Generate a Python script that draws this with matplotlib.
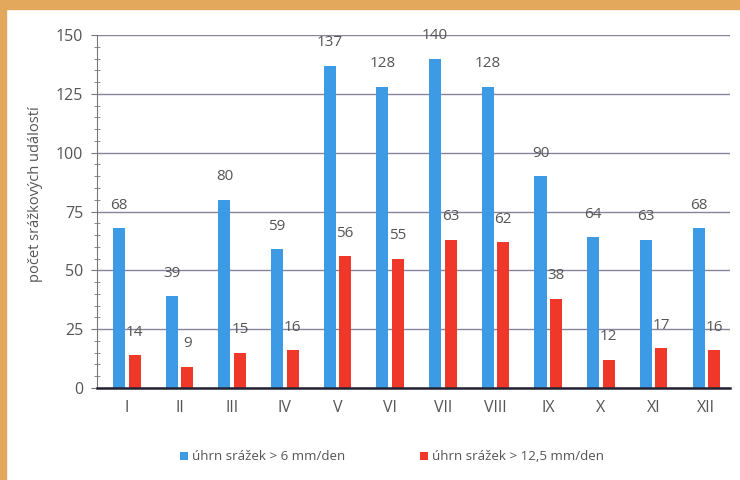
import numpy as np
import matplotlib
matplotlib.use('Agg')
import matplotlib.pyplot as plt
from matplotlib.patches import Rectangle
from matplotlib.ticker import MultipleLocator

months = ['I', 'II', 'III', 'IV', 'V', 'VI', 'VII', 'VIII', 'IX', 'X', 'XI', 'XII']
over6 = [68, 39, 80, 59, 137, 128, 140, 128, 90, 64, 63, 68]
over12 = [14, 9, 15, 16, 56, 55, 63, 62, 38, 12, 17, 16]
label6 = 'úhrn srážek > 6 mm/den'
label12 = 'úhrn srážek > 12,5 mm/den'

BLUE = '#3d9be6'
RED = '#f0382a'
GREY = '#555555'

plt.rcParams['font.family'] = ['Open Sans', 'DejaVu Sans']

fig = plt.figure(figsize=(7.4, 4.8), dpi=100)
fig.patch.set_facecolor('white')
# orange frame of the scanned page
fig.patches.append(Rectangle((0, 1 - 9 / 480), 1, 9 / 480, transform=fig.transFigure,
                             color='#e4a85c', zorder=0))
fig.patches.append(Rectangle((0, 0), 6 / 740, 1, transform=fig.transFigure,
                             color='#e4a85c', zorder=0))

ax = fig.add_axes([97 / 740, 1 - 388 / 480, 633 / 740, 353 / 480])

x = np.arange(len(months))
w = 0.228
off = 0.147
b1 = ax.bar(x - off, over6, w, color=BLUE, label=label6, zorder=3)
b2 = ax.bar(x + off, over12, w, color=RED, label=label12, zorder=3)

for bars, vals in ((b1, over6), (b2, over12)):
    for r, v in zip(bars, vals):
        ax.annotate(str(v), (r.get_x() + r.get_width() / 2, v), xytext=(0, 16.5),
                    textcoords='offset points', ha='center', va='center',
                    fontsize=11, color=GREY, zorder=4)

ax.set_xlim(-0.565, 11.45)
ax.set_ylim(0, 150)
ax.yaxis.set_major_locator(MultipleLocator(25))
ax.yaxis.set_minor_locator(MultipleLocator(5))
ax.grid(axis='y', which='major', color='#85859a', linewidth=1, zorder=1)
ax.set_xticks(x)
ax.set_xticklabels(months)
ax.tick_params(axis='x', length=0, pad=9, labelsize=11.5, labelcolor=GREY)
ax.tick_params(axis='y', which='major', length=4, direction='out', color='#777777',
               labelsize=11.5, labelcolor=GREY, pad=6)
ax.tick_params(axis='y', which='minor', length=5, direction='inout', color='#777777')

for s in ('top', 'right'):
    ax.spines[s].set_visible(False)
ax.spines['left'].set_color('#777777')
ax.spines['bottom'].set_color('#222233')
ax.spines['bottom'].set_linewidth(1.8)
ax.spines['bottom'].set_zorder(5)

ax.set_ylabel('počet srážkových událostí', fontsize=10.5, color=GREY)
ax.yaxis.set_label_coords(-0.086, 0.55)

fig.legend(handles=[b1, b2], loc='center', bbox_to_anchor=(0.53, 0.048), ncol=2,
           frameon=False, fontsize=9.6, handlelength=0.6, handleheight=0.6,
           handletextpad=0.3, columnspacing=5.6, labelcolor=GREY)

fig.savefig('out.png', dpi=100, facecolor='white')
